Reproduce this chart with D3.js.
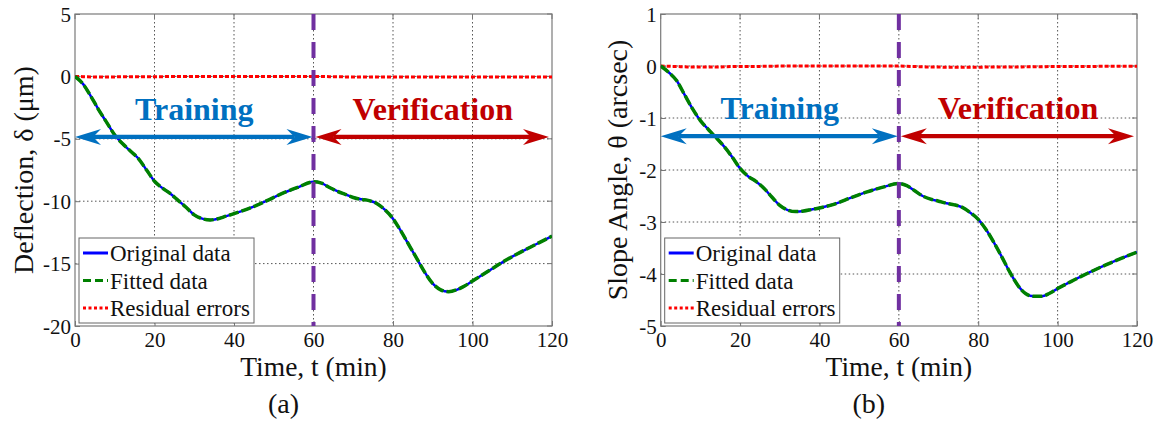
<!DOCTYPE html>
<html>
<head>
<meta charset="utf-8">
<script src="https://cdn.jsdelivr.net/npm/d3@7/dist/d3.min.js"></script>
<style>
  html, body { margin: 0; padding: 0; background: #fff; }
  svg text { font-family: "Liberation Serif", "Times New Roman", serif; }
</style>
</head>
<body>
<svg id="chart" width="1165" height="421"></svg>
<script>
// Time samples (min)
const timeMin = [0,2,4,6,8,10,12,14,16,18,20,22,24,26,28,30,32,34,36,38,40,44,48,52,56,60,
  62,64,66,68,70,72,74,76,78,80,82,84,86,88,90,92,94,96,98,100,104,108,112,116,120];

// (a) Deflection, um
const deflection = [0,-0.6,-1.6,-2.7,-3.7,-4.7,-5.4,-6.0,-6.6,-7.5,-8.4,-8.95,-9.4,-9.95,-10.5,-11.1,-11.4,-11.5,-11.4,-11.2,-11.0,-10.55,-10.0,-9.4,-8.9,-8.45,
  -8.55,-8.9,-9.2,-9.45,-9.7,-9.85,-9.95,-10.2,-10.7,-11.4,-12.4,-13.5,-14.6,-15.7,-16.6,-17.1,-17.25,-17.1,-16.8,-16.4,-15.6,-14.8,-14.1,-13.45,-12.8];
const residualDeflection = [0,-0.02,-0.04,-0.05,-0.05,-0.04,-0.03,-0.03,-0.02,-0.02,-0.02,-0.02,-0.01,-0.01,-0.01,0,0,0,0,0,0,0,0,0,0,0,
  -0.01,-0.02,-0.03,-0.04,-0.05,-0.05,-0.05,-0.05,-0.05,-0.05,-0.05,-0.05,-0.05,-0.05,-0.05,-0.05,-0.05,-0.05,-0.05,-0.05,-0.05,-0.05,-0.05,-0.05,-0.05];

// (b) Slope angle, arcsec
const slopeAngle = [0,-0.12,-0.28,-0.55,-0.82,-1.05,-1.22,-1.38,-1.55,-1.75,-1.97,-2.12,-2.22,-2.35,-2.52,-2.68,-2.77,-2.8,-2.79,-2.76,-2.73,-2.65,-2.53,-2.42,-2.33,-2.26,
  -2.3,-2.4,-2.5,-2.56,-2.6,-2.64,-2.67,-2.72,-2.82,-2.95,-3.15,-3.4,-3.68,-3.97,-4.22,-4.38,-4.43,-4.43,-4.37,-4.28,-4.12,-3.97,-3.83,-3.7,-3.58];
const residualSlope = [0,-0.005,-0.01,-0.015,-0.02,-0.02,-0.02,-0.02,-0.015,-0.01,-0.01,-0.01,-0.01,-0.005,-0.005,0,0,0,0,0,0,0,0,0,0,0,
  -0.005,-0.01,-0.015,-0.02,-0.02,-0.025,-0.025,-0.025,-0.025,-0.025,-0.02,-0.02,-0.02,-0.02,-0.02,-0.015,-0.015,-0.015,-0.01,-0.01,-0.01,-0.01,-0.005,-0.005,-0.005];

// Axis ticks
const xTicks = [0,20,40,60,80,100,120];
const yTicksA = [5,0,-5,-10,-15,-20];
const yTicksB = [1,0,-1,-2,-3,-4,-5];

// Phase split and labels
const splitTime = 60;
const phaseNames = ["Training", "Verification"];
const phaseSpans = [[0,60],[60,120]];
const phaseCenters = [30, 90];
const legendLabels = ["Original data", "Fitted data", "Residual errors"];

const svg = d3.select("#chart");

const panels = [
  { left: 75, top: 14, width: 477, height: 312, yDomain: [-20,5], yTicks: yTicksA,
    values: deflection, residual: residualDeflection, arrowLevel: -4.85,
    title: "Deflection, \u03b4 (\u03bcm)", titleOffset: 42, caption: "(a)", id: "a" },
  { left: 660.7, top: 14, width: 476.3, height: 312, yDomain: [-5,1], yTicks: yTicksB,
    values: slopeAngle, residual: residualSlope, arrowLevel: -1.35,
    title: "Slope Angle, \u03b8 (arcsec)", titleOffset: 34, caption: "(b)", id: "b" }
];

const phaseColors = ["#0070C0", "#C00000"];
const plainNumber = d => String(d);

const defs = svg.append("defs");

panels.forEach(p => {
  const x = d3.scaleLinear().domain([0,120]).range([0, p.width]);
  const y = d3.scaleLinear().domain(p.yDomain).range([p.height, 0]);
  const g = svg.append("g").attr("transform", `translate(${p.left},${p.top})`);

  defs.append("clipPath").attr("id", "clip-" + p.id)
    .append("rect").attr("x", 0).attr("y", 0).attr("width", p.width).attr("height", p.height);

  // Grid lines (dotted)
  const grid = g.append("g");
  grid.selectAll("line.vx").data(xTicks.slice(1, -1)).join("line")
    .attr("x1", d => x(d)).attr("x2", d => x(d)).attr("y1", 0).attr("y2", p.height)
    .attr("stroke", "#555").attr("stroke-width", 1).attr("stroke-dasharray", "1.5,2.5");
  grid.selectAll("line.hy").data(p.yTicks.slice(1, -1)).join("line")
    .attr("x1", 0).attr("x2", p.width).attr("y1", d => y(d)).attr("y2", d => y(d))
    .attr("stroke", "#555").attr("stroke-width", 1).attr("stroke-dasharray", "1.5,2.5");

  // Axes
  const xAxis = d3.axisBottom(x).tickValues(xTicks).tickSize(-5).tickPadding(6).tickFormat(plainNumber);
  const yAxis = d3.axisLeft(y).tickValues(p.yTicks).tickSize(-5).tickPadding(4).tickFormat(plainNumber);
  const gx = g.append("g").attr("transform", `translate(0,${p.height})`).call(xAxis);
  const gy = g.append("g").call(yAxis);
  [gx, gy].forEach(a => {
    a.attr("font-family", null);
    a.select(".domain").remove();
    a.selectAll(".tick line").attr("stroke", "#777");
    a.selectAll(".tick text").attr("font-size", 21).attr("fill", "#111");
  });
  gy.selectAll(".tick text").attr("dy", "0.34em");
  gx.selectAll(".tick text").attr("dy", "0.72em");

  // Top/right ticks
  g.append("g").selectAll("line").data(xTicks).join("line")
    .attr("x1", d => x(d)).attr("x2", d => x(d)).attr("y1", 0).attr("y2", 5).attr("stroke", "#777");
  g.append("g").selectAll("line").data(p.yTicks).join("line")
    .attr("x1", p.width - 5).attr("x2", p.width).attr("y1", d => y(d)).attr("y2", d => y(d)).attr("stroke", "#777");

  // Frame
  g.append("rect").attr("x", 0).attr("y", 0).attr("width", p.width).attr("height", p.height)
    .attr("fill", "none").attr("stroke", "#7a7a7a").attr("stroke-width", 1.2);

  const plot = g.append("g").attr("clip-path", `url(#clip-${p.id})`);
  const lineGen = d3.line().x((d, i) => x(timeMin[i])).y(d => y(d)).curve(d3.curveMonotoneX);

  // Residual errors
  plot.append("path").datum(p.residual).attr("d", lineGen)
    .attr("fill", "none").attr("stroke", "#FF0000").attr("stroke-width", 3).attr("stroke-dasharray", "4,2");

  // Original data
  plot.append("path").datum(p.values).attr("d", lineGen)
    .attr("fill", "none").attr("stroke", "#0000FF").attr("stroke-width", 2.5);

  // Fitted data
  plot.append("path").datum(p.values).attr("d", lineGen)
    .attr("fill", "none").attr("stroke", "#008000").attr("stroke-width", 3.5).attr("stroke-dasharray", "10,3");

  // Phase separator
  plot.append("line").attr("x1", x(splitTime)).attr("x2", x(splitTime)).attr("y1", 0).attr("y2", p.height)
    .attr("stroke", "#7030A0").attr("stroke-width", 4).attr("stroke-dasharray", "16,12");

  // Double-headed arrows and phase labels
  const ay = y(p.arrowLevel);
  phaseSpans.forEach((span, k) => {
    const col = phaseColors[k];
    const x0 = x(span[0]) + (k === 1 ? 2 : 0);
    const x1 = x(span[1]) - (k === 0 ? 1 : 3);
    const headLen = 26, headHalf = 8, notch = 8;
    g.append("line").attr("x1", x0 + headLen - notch).attr("x2", x1 - headLen + notch)
      .attr("y1", ay).attr("y2", ay).attr("stroke", col).attr("stroke-width", 4.2);
    g.append("path").attr("fill", col)
      .attr("d", `M${x0},${ay} L${x0 + headLen},${ay - headHalf} L${x0 + headLen - notch},${ay} L${x0 + headLen},${ay + headHalf} Z`);
    g.append("path").attr("fill", col)
      .attr("d", `M${x1},${ay} L${x1 - headLen},${ay - headHalf} L${x1 - headLen + notch},${ay} L${x1 - headLen},${ay + headHalf} Z`);
    g.append("text").attr("x", x(phaseCenters[k])).attr("y", ay - 17)
      .attr("text-anchor", "middle").attr("font-size", 32).attr("font-weight", "bold")
      .attr("fill", col).text(phaseNames[k]);
  });

  // Legend
  const lg = g.append("g").attr("transform", "translate(4,224)");
  lg.append("rect").attr("x", 0).attr("y", 0).attr("width", 175).attr("height", 85)
    .attr("fill", "#fff").attr("stroke", "#666").attr("stroke-width", 1);
  const styles = [
    { stroke: "#0000FF", width: 3, dash: null },
    { stroke: "#008000", width: 3, dash: "8,4" },
    { stroke: "#FF0000", width: 3, dash: "3,2.5" }
  ];
  legendLabels.forEach((lab, i) => {
    const yy = 15 + i * 27.5;
    lg.append("line").attr("x1", 4).attr("x2", 29).attr("y1", yy).attr("y2", yy)
      .attr("stroke", styles[i].stroke).attr("stroke-width", styles[i].width)
      .attr("stroke-dasharray", styles[i].dash);
    lg.append("text").attr("x", 31).attr("y", yy + 8).attr("font-size", 23).attr("fill", "#111").text(lab);
  });

  // Axis titles
  g.append("text").attr("x", p.width / 2).attr("y", 362).attr("text-anchor", "middle")
    .attr("font-size", 27.5).attr("fill", "#111").text("Time, t (min)");
  g.append("text").attr("transform", `translate(${-p.titleOffset},${p.height / 2}) rotate(-90)`)
    .attr("text-anchor", "middle").attr("font-size", 28).attr("fill", "#111").text(p.title);
  g.append("text").attr("x", p.width / 2 - 30).attr("y", 399).attr("text-anchor", "middle")
    .attr("font-size", 28).attr("fill", "#111").text(p.caption);
});
</script>
</body>
</html>
